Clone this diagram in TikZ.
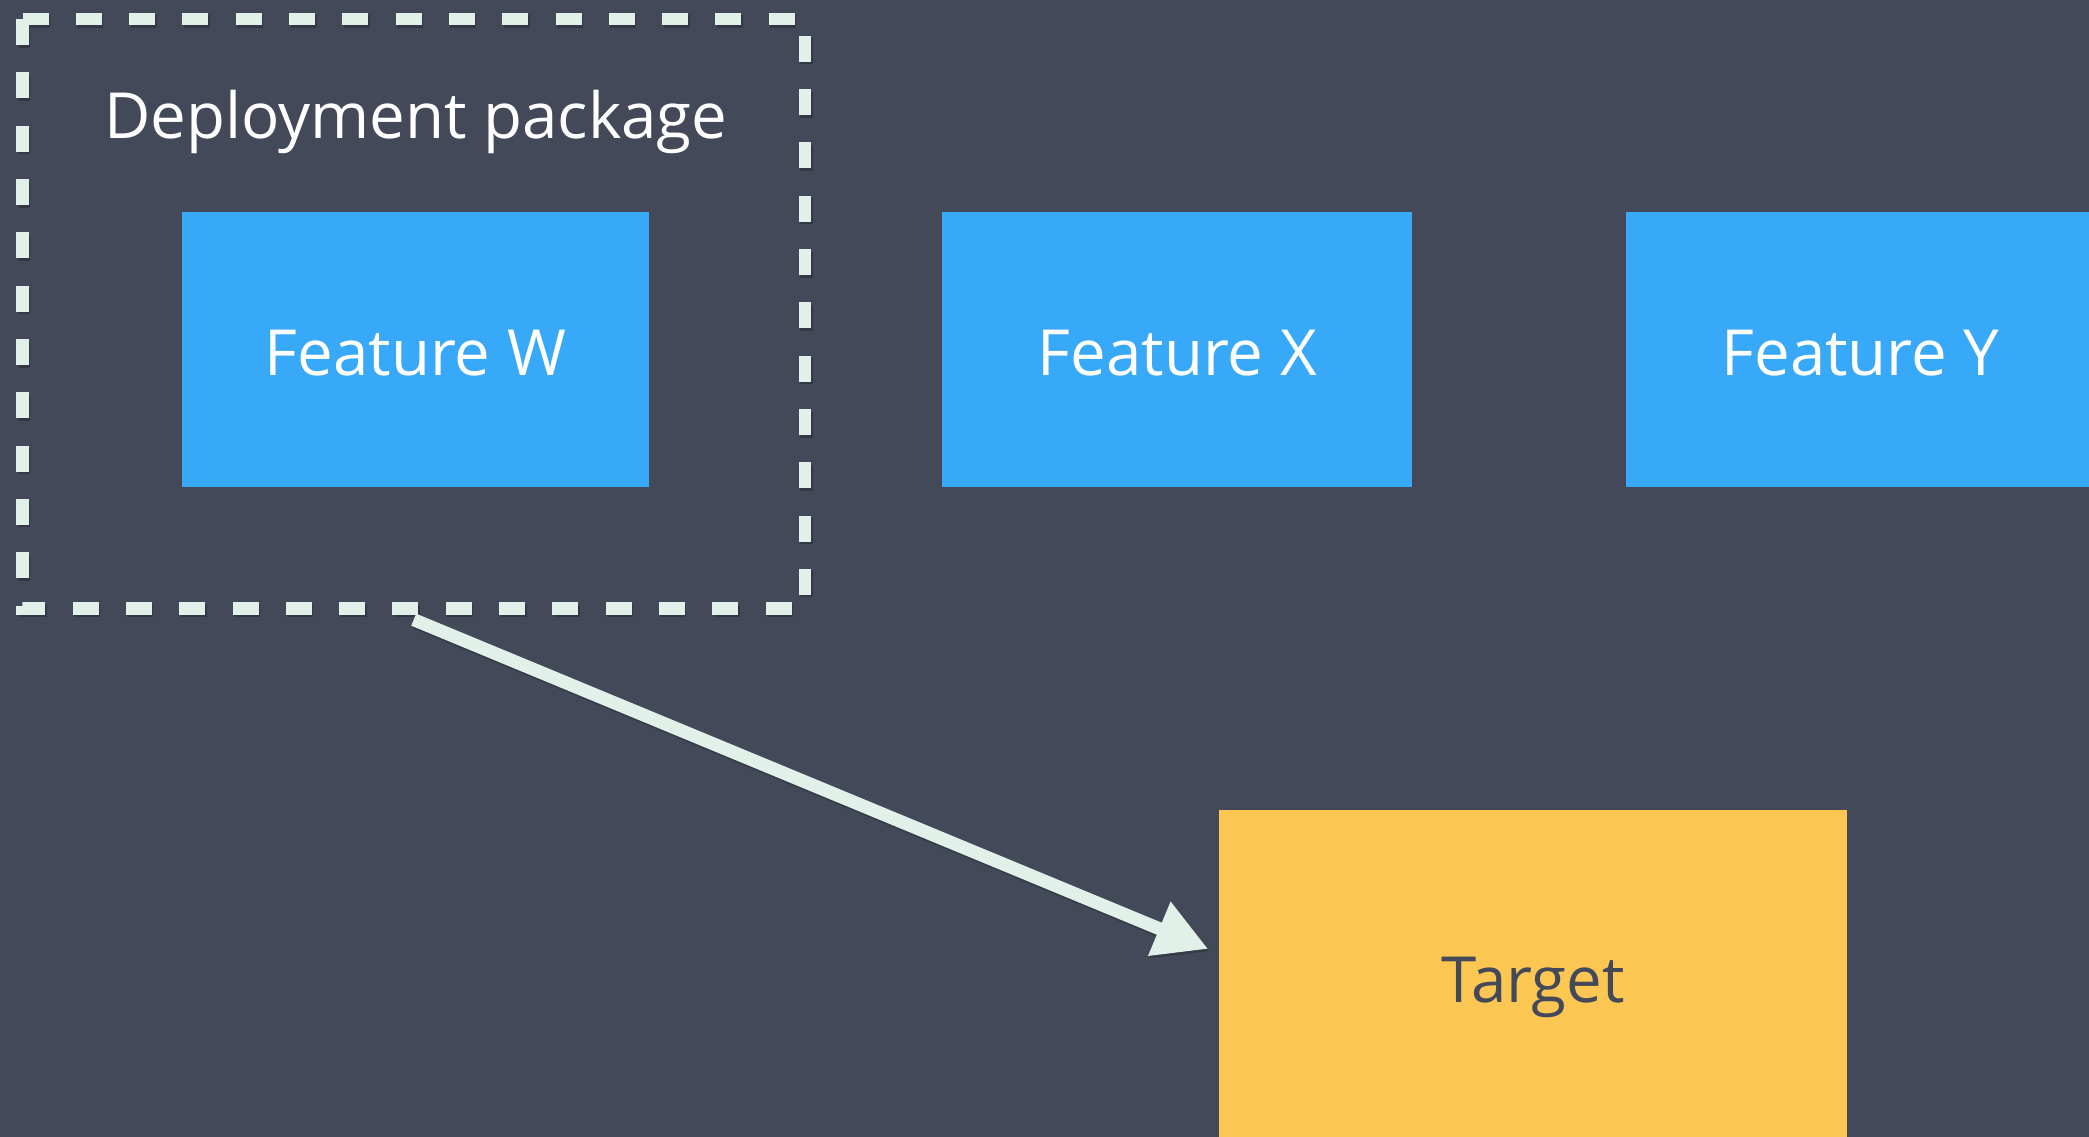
\documentclass[tikz,border=0pt]{standalone}
\usepackage{fontspec}
\setmainfont{Open Sans}
\usetikzlibrary{arrows.meta,calc}
\definecolor{bgc}{HTML}{434959}
\definecolor{featblue}{HTML}{38A8F8}
\definecolor{tgtyellow}{HTML}{FCC653}
\definecolor{mint}{HTML}{E1F1E9}
\tikzset{
  bigfont/.style={font=\fontsize{63.6pt}{76pt}\selectfont},
  featbox/.style={rectangle, fill=featblue, text=white, inner sep=0pt, outer sep=0pt,
    minimum height=275pt, bigfont, text height=52pt, text depth=0pt},
  tgtbox/.style={rectangle, fill=tgtyellow, text=bgc, inner sep=0pt, outer sep=0pt,
    bigfont, text height=47.4pt, text depth=0pt},
  pkgline/.style={draw=mint, line width=12.5pt, dash pattern=on 26pt off 27.3pt,
    line cap=butt, line join=miter},
  pkgshadow/.style={draw=black, draw opacity=0.22, line width=12.5pt,
    dash pattern=on 26pt off 27.3pt, line cap=butt, line join=miter,
    transform canvas={shift={(1.5pt,-2.5pt)}}},
  conn/.style={draw=mint, line width=13pt, -{Triangle[length=53pt,width=55pt]}},
  connshadow/.style={draw=black, draw opacity=0.18, line width=13pt,
    -{Triangle[length=53pt,width=55pt]}, transform canvas={shift={(1.5pt,-2.5pt)}}},
  titletext/.style={text=white, bigfont, inner sep=0pt, outer sep=0pt, anchor=base},
  pkgarea/.style={rectangle, inner sep=0pt, outer sep=0pt}
}
\begin{document}
\begin{tikzpicture}[x=1pt,y=-1pt]
\fill[bgc] (0,0) rectangle (2089,1137);
\useasboundingbox (0,0) rectangle (2089,1137);
\clip (0,0) rectangle (2089,1137);

\node[featbox, minimum width=467pt] (fw) at (415.5,349.5) {Feature W};
\node[featbox, minimum width=470pt] (fx) at (1177.3,349.5) {Feature X};
\node[featbox, minimum width=470pt] (fy) at (1860.5,349.5) {Feature Y};
\node[tgtbox, minimum width=627.5pt, minimum height=338pt] (tgt) at (1533,979) {Target};

\node[pkgarea, minimum width=782.5pt, minimum height=589.8pt] (pkg) at (413.75,313.8) {};
\node[titletext] (pkgtitle) at (416,138.6) {Deployment package};

\draw[pkgshadow] (pkg.north west) -- (pkg.north east) -- (pkg.south east) -- (pkg.south west) -- cycle;
\draw[pkgline] (pkg.north west) -- (pkg.north east) -- (pkg.south east) -- (pkg.south west) -- cycle;

\coordinate (astart) at ([yshift=-11pt]pkg.south);
\coordinate (aend) at ([xshift=-11pt,yshift=30pt]tgt.west);
\draw[connshadow] (astart) -- (aend);
\draw[conn] (astart) -- (aend);
\end{tikzpicture}
\end{document}
